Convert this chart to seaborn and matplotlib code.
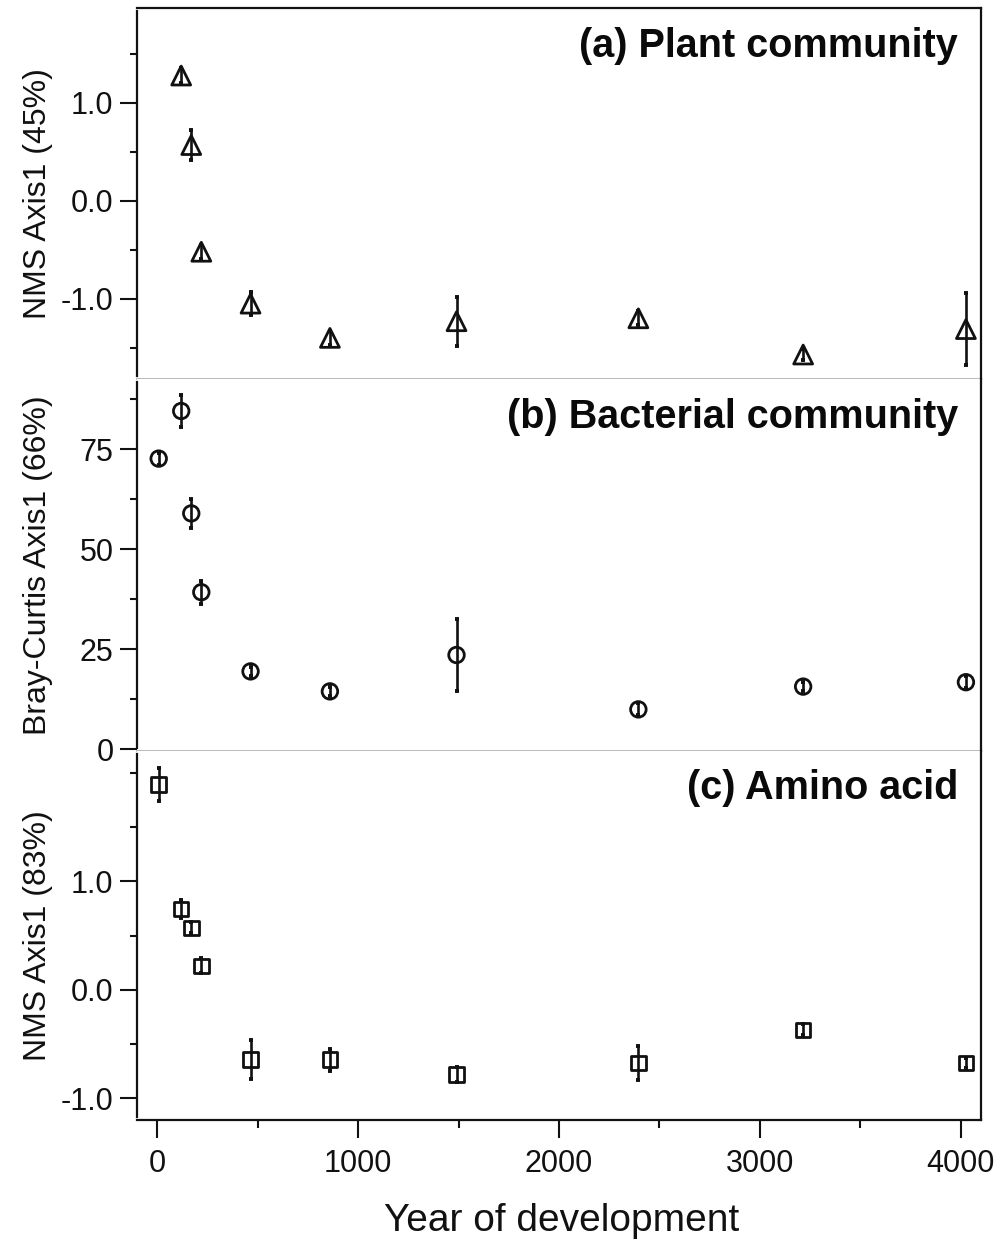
import matplotlib
matplotlib.use("Agg")
import matplotlib.pyplot as plt
from matplotlib import font_manager
import seaborn as sns
import pandas as pd

# ---- data -------------------------------------------------------------
years = [8, 120, 170, 220, 465, 860, 1490, 2395, 3215, 4025]

plant_years = [120, 170, 220, 465, 860, 1490, 2395, 3215, 4025]
plant_mean = [1.28, 0.57, -0.52, -1.05, -1.40, -1.23, -1.20, -1.57, -1.31]
plant_err = [0.08, 0.15, 0.07, 0.12, 0.07, 0.25, 0.07, 0.06, 0.37]

bact_mean = [72.7, 84.6, 59.0, 39.3, 19.5, 14.5, 23.6, 10.0, 15.7, 16.8]
bact_err = [1.5, 4.0, 3.7, 2.9, 1.2, 1.2, 9.0, 1.5, 1.2, 1.5]

amino_mean = [1.89, 0.745, 0.57, 0.22, -0.645, -0.645, -0.78, -0.675, -0.37, -0.675]
amino_err = [0.15, 0.08, 0.05, 0.07, 0.18, 0.10, 0.07, 0.16, 0.05, 0.05]

panel_titles = ["(a) Plant community", "(b) Bacterial community", "(c) Amino acid"]
y_labels = ["NMS Axis1 (45%)", "Bray-Curtis Axis1 (66%)", "NMS Axis1 (83%)"]
x_label = "Year of development"
x_ticks = [0, 1000, 2000, 3000, 4000]

# ---- style ------------------------------------------------------------
sns.set_theme(style="ticks")
plt.rcParams["font.family"] = ["Liberation Sans", "DejaVu Sans"]
plt.rcParams["axes.unicode_minus"] = False

try:
    font_manager.findfont("Liberation Sans Narrow", fallback_to_default=False)
    tick_family, tick_size = "Liberation Sans Narrow", 25
except ValueError:
    tick_family, tick_size = "Liberation Sans", 22

W, H = 1005, 1245
fig = plt.figure(figsize=(W / 100, H / 100), dpi=100)
fig.patch.set_facecolor("white")

left, right = 137 / W, 981 / W
rows = [(8, 379), (379, 751), (751, 1120)]
axes = []
for top_px, bot_px in rows:
    ax = fig.add_axes([left, 1 - bot_px / H, right - left, (bot_px - top_px) / H])
    axes.append(ax)

sep_color = "#b4b4b4"
black = "#111111"

panels = [
    dict(x=plant_years, y=plant_mean, e=plant_err, marker="^", s=185,
         ylim=(-1.82, 1.97), major=[-1, 0, 1], minor=[-1.5, -0.5, 0.5, 1.5],
         fmt="{:.1f}"),
    dict(x=years, y=bact_mean, e=bact_err, marker="o", s=125,
         ylim=(-0.4, 92.6), major=[0, 25, 50, 75], minor=[12.5, 37.5, 62.5, 87.5],
         fmt="{:.0f}"),
    dict(x=years, y=amino_mean, e=amino_err, marker="s", s=110,
         ylim=(-1.2, 2.2), major=[-1, 0, 1], minor=[-0.5, 0.5, 1.5, 2.0],
         fmt="{:.1f}"),
]

for i, (ax, p) in enumerate(zip(axes, panels)):
    df = pd.DataFrame({"year": p["x"], "value": p["y"], "err": p["e"]})
    ax.errorbar(df["year"], df["value"], yerr=df["err"], fmt="none",
                ecolor=black, elinewidth=1.9, capsize=1.6, capthick=2.8, zorder=2)
    sns.scatterplot(data=df, x="year", y="value", marker=p["marker"], s=p["s"],
                    facecolor="none", edgecolor=black, linewidth=2.0,
                    ax=ax, zorder=3, legend=False)

    ax.set_xlim(-100, 4100)
    ax.set_ylim(*p["ylim"])
    ax.set_yticks(p["major"])
    ax.set_yticklabels([p["fmt"].format(v) for v in p["major"]])
    ax.set_yticks(p["minor"], minor=True)
    ax.set_xticks(x_ticks)
    ax.set_xticks([500, 1500, 2500, 3500], minor=True)

    ax.tick_params(axis="y", which="major", direction="out", length=12, width=1.5,
                   color=black, pad=5, labelsize=tick_size,
                   labelfontfamily=tick_family, labelcolor="#111111")
    ax.tick_params(axis="y", which="minor", direction="out", length=5, width=1.5,
                   color=black)

    ax.set_ylabel(y_labels[i], fontsize=23, color="#111111")
    ax.yaxis.set_label_coords(-0.100, 0.5)
    ax.set_xlabel("")

    # frame
    for side in ["left", "right"]:
        ax.spines[side].set_visible(True)
        ax.spines[side].set_color(black)
        ax.spines[side].set_linewidth(1.6)
    lo, hi = p["ylim"]
    gap = (hi - lo) * 3 / 370
    ax.spines["left"].set_bounds(lo + gap, hi - gap)
    ax.spines["top"].set_visible(i == 0)
    ax.spines["top"].set_color(black)
    ax.spines["top"].set_linewidth(1.6)
    if i < 2:
        ax.spines["bottom"].set_color(sep_color)
        ax.spines["bottom"].set_linewidth(1.3)
        ax.tick_params(axis="x", which="both", bottom=False, labelbottom=False)
    else:
        ax.spines["bottom"].set_color(black)
        ax.spines["bottom"].set_linewidth(1.6)
        ax.tick_params(axis="x", which="major", direction="out", length=13, width=1.5,
                       color=black, pad=8, labelsize=tick_size,
                       labelfontfamily=tick_family, labelcolor="#111111")
        ax.tick_params(axis="x", which="minor", direction="out", length=6, width=1.5,
                       color=black)
        ax.set_xlabel(x_label, fontsize=28, color="#111111")
        ax.xaxis.set_label_coords(0.5036, -0.225)
        ax.xaxis.label.set_va("top")

    ax.text(0.9727, 0.95, panel_titles[i], transform=ax.transAxes, ha="right",
            va="top", fontsize=28.5, fontweight="bold", color="#0a0a0a")

fig.savefig("out.png", dpi=100, facecolor="white")
